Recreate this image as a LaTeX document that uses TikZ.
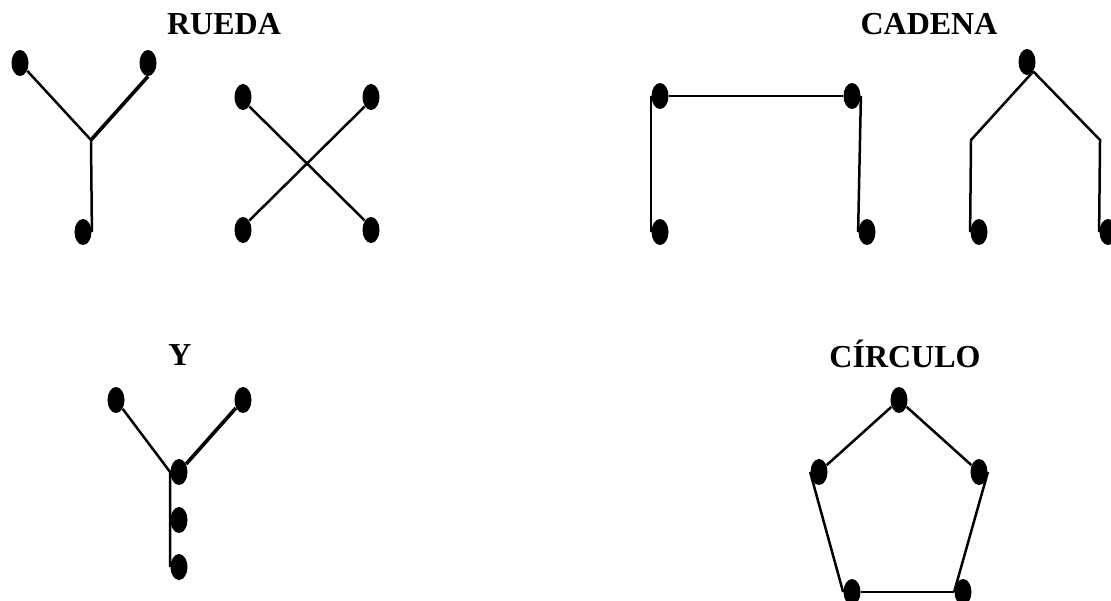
\documentclass[tikz,border=0pt]{standalone}
\usepackage{fontspec}
\setmainfont{Liberation Serif}
\usetikzlibrary{shapes.geometric}
\begin{document}
\begin{tikzpicture}[x=0.5pt,y=-0.5pt,
  dot/.style={ellipse,fill=black,inner sep=0pt,minimum width=8.5pt,minimum height=13pt},
  link/.style={line width=1.25pt},
  heavy/.style={line width=1.8pt},
  title/.style={font=\fontsize{16}{19}\selectfont\bfseries}]
\useasboundingbox (0,0) rectangle (1111,600);

% RUEDA: a three-armed wheel and a four-armed cross
\node[title] (tRueda) at (224,24) {RUEDA};
\node[dot] (ya) at (20,63) {};
\node[dot] (yb) at (148,63) {};
\node[dot] (yc) at (83,232) {};
\coordinate (yj) at (91,140);
\draw[link] (ya) -- (yj);
\draw[heavy] (yb.south) -- (yj);
\draw[link] (yj) -- (yc.east);

\node[dot] (xa) at (243,97) {};
\node[dot] (xb) at (371,97) {};
\node[dot] (xc) at (243,230) {};
\node[dot] (xd) at (371,230) {};
\draw[link] (xa.south east) -- (xd.north west);
\draw[link] (xb.south west) -- (xc.north east);

% CADENA: two open chains
\node[title] (tCadena) at (929,24) {CADENA};
\node[dot] (ca) at (660,96) {};
\node[dot] (cb) at (852,96) {};
\node[dot] (cc) at (660,232) {};
\node[dot] (cd) at (867,232) {};
\draw[link] (ca.west) -- (cc.west);
\draw[link] (ca) -- (cb);
\draw[link] (cb.east) -- (cd.west);

\node[dot] (pa) at (1027,62) {};
\node[dot] (pb) at (979,232) {};
\node[dot] (pc) at (1108,232) {};
\coordinate (pl) at (971,140);
\coordinate (pr) at (1100,140);
\draw[link] (pa.south east) -- (pl) -- (pb.west);
\draw[link] (pa.south east) -- (pr) -- (pc.west);

% Y
\node[title] (tY) at (180,355) {Y};
\node[dot] (ea) at (116,400) {};
\node[dot] (eb) at (243,400) {};
\node[dot] (ec) at (179,472) {};
\node[dot] (ed) at (179,520) {};
\node[dot] (ee) at (179,567) {};
\draw[link] (ea) -- (ec.west) -- (ee.west);
\draw[heavy] (eb) -- (ec);

% CIRCULO: a closed pentagon
\node[title] (tCirculo) at (905,354) {CÍRCULO};
\node[dot] (ka) at (899,400) {};
\node[dot] (kb) at (819,472) {};
\node[dot] (kc) at (979,472) {};
\node[dot] (kd) at (852,592) {};
\node[dot] (ke) at (963,592) {};
\draw[link] (kb) -- (ka) -- (kc);
\draw[link] (kb.west) -- (kd.west);
\draw[link] (kc.east) -- (ke.west);
\draw[link] (kd) -- (ke);
\end{tikzpicture}
\end{document}
